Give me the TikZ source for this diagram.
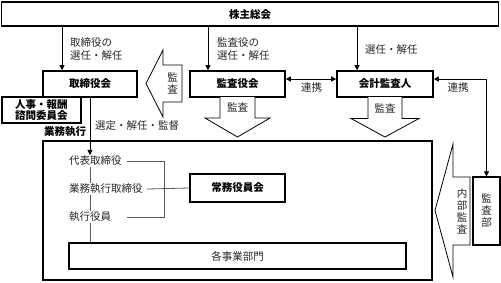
\documentclass[tikz,border=0pt]{standalone}
\usepackage{fontspec}
\setmainfont{Noto Sans CJK JP}
\usetikzlibrary{arrows.meta}
\tikzset{
  boxlabel/.style={font=\bfseries\fontsize{10.5}{12.5}\selectfont},
  plainlabel/.style={font=\fontsize{10.5}{12.5}\selectfont, text=black!85, inner sep=1pt},
  thickbox/.style={draw, line width=1.6pt, inner sep=0pt, boxlabel, align=center},
  thinbox/.style={draw, line width=1.1pt, inner sep=0pt, align=center},
  conn/.style={line width=0.8pt, draw=black},
  arr/.style={conn, -{Triangle[length=5pt,width=5pt]}},
  arrboth/.style={conn, {Triangle[length=5pt,width=5pt]}-{Triangle[length=5pt,width=5pt]}},
  gline/.style={line width=0.8pt, draw=black!65},
  hollow/.style={draw, line width=0.8pt, fill=white, line join=miter},
  vtext/.style={plainlabel, align=center, font=\fontsize{10.5}{12}\selectfont},
}
\begin{document}
\begin{tikzpicture}[x=1pt,y=-1pt]
\useasboundingbox (0,0) rectangle (501,282);

% boxes
\node[thickbox, minimum width=497pt, minimum height=24pt] (kabu) at (250,14) {株主総会};
\node[thickbox, minimum width=94pt, minimum height=26pt] (tori) at (90,84) {取締役会};
\node[thickbox, minimum width=79pt, minimum height=26pt] (jinji) at (41.5,110) {人事・報酬\\[-1pt]諮問委員会};
\node[thickbox, minimum width=95pt, minimum height=26pt] (kansayaku) at (237.5,84) {監査役会};
\node[thickbox, minimum width=96pt, minimum height=26pt] (kaikei) at (385,84) {会計監査人};
\node[thickbox, minimum width=389pt, minimum height=139pt] (main) at (237.5,210.5) {};
\node[thickbox, line width=1.3pt, minimum width=95pt, minimum height=28pt] (jomu) at (237.5,188) {常務役員会};
\node[thinbox, minimum width=337pt, minimum height=26pt, plainlabel] (kakuji) at (237.5,256) {各事業部門};
\node[thinbox, minimum width=27pt, minimum height=68pt, vtext] (kansabu) at (486.5,211) {監\\査\\部};

% hollow arrows
\draw[hollow] (182,65) -- (163,65) -- (163,50) -- (146,83.5) -- (163,117) -- (163,102) -- (182,102) -- cycle;
\node[vtext] (lkansa) at (172.5,83.5) {監\\査};
\draw[hollow] (220,97) -- (220,118) -- (205,118) -- (237.5,137) -- (270,118) -- (255,118) -- (255,97);
\node[plainlabel] (dkansa1) at (237.5,107.5) {監査};
\draw[hollow] (368,97) -- (368,118.5) -- (351,118.5) -- (385,137) -- (419,118.5) -- (402,118.5) -- (402,97);
\node[plainlabel] (dkansa2) at (385,108) {監査};
\draw[hollow] (470,177) -- (453,177) -- (453,144) -- (435,210.5) -- (453,277) -- (453,245) -- (470,245) -- cycle;
\node[vtext] (naibu) at (462,211) {内\\部\\監\\査};

% selection arrows from general meeting
\draw[arr] ([xshift=-28pt]tori.north |- kabu.south) -- ([xshift=-28pt]tori.north);
\draw[arr] ([xshift=-29.5pt]kansayaku.north |- kabu.south) -- ([xshift=-29.5pt]kansayaku.north);
\draw[arr] ([xshift=-28pt]kaikei.north |- kabu.south) -- ([xshift=-28pt]kaikei.north);
\node[plainlabel, anchor=west, align=left] (l1) at (69,49) {取締役の\\選任・解任};
\node[plainlabel, anchor=west, align=left] (l2) at (216,49) {監査役の\\選任・解任};
\node[plainlabel, anchor=west] (l3) at (364,50) {選任・解任};

% cooperation
\draw[arrboth] ([yshift=5pt]kansayaku.east) -- ([yshift=5pt]kaikei.west);
\node[plainlabel] (renkei1) at (311.5,88) {連携};
\draw[arrboth] ([yshift=5pt]kaikei.east) -| (kansabu.north);
\node[plainlabel] (renkei2) at (458,88) {連携};

% execution
\node[plainlabel] (sentei) [anchor=west] at (94,126) {選定・解任・監督};
\node[boxlabel, inner sep=1pt, anchor=west] (gyomushikko) at (43,131.5) {業務執行};
\node[plainlabel, anchor=west] (daihyo) at (68,161) {代表取締役};
\node[plainlabel, anchor=west] (gyomu) at (68,189) {業務執行取締役};
\node[plainlabel, anchor=west] (shikko) at (68,217) {執行役員};
\coordinate (vx) at (tori.south);
\coordinate (bl) at (127,0);
\coordinate (br) at (164,0);
\draw[arr] (tori.south) -- (daihyo.north -| vx);
\draw[gline] (daihyo.south -| vx) -- (gyomu.north -| vx);
\draw[gline] (gyomu.south -| vx) -- (shikko.north -| vx);
\draw[gline] (shikko.south -| vx) -- (kakuji.north -| vx);
\draw[gline] (daihyo.east -| bl) -- (daihyo.east -| br) -- (shikko.east -| br) -- (shikko.east -| bl);
\draw[gline] ([xshift=3pt]gyomu.east) -- (jomu.west);
\end{tikzpicture}
\end{document}
